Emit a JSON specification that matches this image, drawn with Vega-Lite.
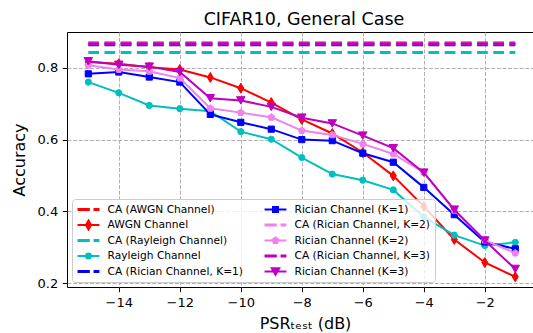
{
  "$schema": "https://vega.github.io/schema/vega-lite/v6.json",
  "width": 466,
  "height": 255,
  "autosize": {"type": "none"},
  "padding": {"left": 67, "top": 32, "right": 0, "bottom": 46},
  "background": "white",
  "title": {
    "text": "CIFAR10, General Case",
    "font": "DejaVu Sans",
    "fontSize": 17.5,
    "fontWeight": "normal",
    "color": "#000000",
    "anchor": "middle",
    "baseline": "alphabetic",
    "offset": -10,
    "dx": 4
  },
  "config": {
    "view": {"stroke": "#000000", "strokeWidth": 1},
    "axis": {
      "domain": false,
      "tickColor": "#000000",
      "tickWidth": 1,
      "tickSize": 4.7,
      "labelColor": "#000000",
      "labelFont": "DejaVu Sans",
      "labelFontSize": 13,
      "labelPadding": 4.6,
      "titleColor": "#000000",
      "titleFont": "DejaVu Sans",
      "titleFontSize": 16,
      "titleFontWeight": "normal",
      "grid": true,
      "gridColor": "#b0b0b0",
      "gridDash": [3.95, 1.7],
      "gridWidth": 1
    },
    "legend": {
      "orient": "bottom-left",
      "offset": 5,
      "columns": 2,
      "columnPadding": 20,
      "rowPadding": 3.5,
      "clipHeight": 12,
      "padding": 4.5,
      "symbolSize": 480,
      "symbolStrokeWidth": 2,
      "symbolOpacity": 1,
      "symbolOffset": 0,
      "labelOffset": 7,
      "labelFont": "DejaVu Sans",
      "labelFontSize": 10.67,
      "labelColor": "#000000",
      "labelLimit": 300,
      "fillColor": "rgba(255,255,255,0.8)",
      "strokeColor": "#cccccc",
      "cornerRadius": 3
    }
  },
  "datasets": {
    "ca": [
      {"x": -15, "acc": 0.869, "s": "CA (AWGN Channel)"},
      {"x": -1, "acc": 0.869, "s": "CA (AWGN Channel)"},
      {"x": -15, "acc": 0.842, "s": "CA (Rayleigh Channel)"},
      {"x": -1, "acc": 0.842, "s": "CA (Rayleigh Channel)"},
      {"x": -15, "acc": 0.864, "s": "CA (Rician Channel, K=1)"},
      {"x": -1, "acc": 0.864, "s": "CA (Rician Channel, K=1)"},
      {"x": -15, "acc": 0.867, "s": "CA (Rician Channel, K=2)"},
      {"x": -1, "acc": 0.867, "s": "CA (Rician Channel, K=2)"},
      {"x": -15, "acc": 0.8665, "s": "CA (Rician Channel, K=3)"},
      {"x": -1, "acc": 0.8665, "s": "CA (Rician Channel, K=3)"}
    ],
    "curves": [
      {"x": -15, "acc": 0.816, "s": "AWGN Channel"},
      {"x": -14, "acc": 0.811, "s": "AWGN Channel"},
      {"x": -13, "acc": 0.801, "s": "AWGN Channel"},
      {"x": -12, "acc": 0.795, "s": "AWGN Channel"},
      {"x": -11, "acc": 0.773, "s": "AWGN Channel"},
      {"x": -10, "acc": 0.743, "s": "AWGN Channel"},
      {"x": -9, "acc": 0.703, "s": "AWGN Channel"},
      {"x": -8, "acc": 0.656, "s": "AWGN Channel"},
      {"x": -7, "acc": 0.617, "s": "AWGN Channel"},
      {"x": -6, "acc": 0.564, "s": "AWGN Channel"},
      {"x": -5, "acc": 0.499, "s": "AWGN Channel"},
      {"x": -4, "acc": 0.414, "s": "AWGN Channel"},
      {"x": -3, "acc": 0.322, "s": "AWGN Channel"},
      {"x": -2, "acc": 0.258, "s": "AWGN Channel"},
      {"x": -1, "acc": 0.218, "s": "AWGN Channel"},

      {"x": -15, "acc": 0.760, "s": "Rayleigh Channel"},
      {"x": -14, "acc": 0.730, "s": "Rayleigh Channel"},
      {"x": -13, "acc": 0.695, "s": "Rayleigh Channel"},
      {"x": -12, "acc": 0.686, "s": "Rayleigh Channel"},
      {"x": -11, "acc": 0.679, "s": "Rayleigh Channel"},
      {"x": -10, "acc": 0.622, "s": "Rayleigh Channel"},
      {"x": -9, "acc": 0.601, "s": "Rayleigh Channel"},
      {"x": -8, "acc": 0.550, "s": "Rayleigh Channel"},
      {"x": -7, "acc": 0.504, "s": "Rayleigh Channel"},
      {"x": -6, "acc": 0.487, "s": "Rayleigh Channel"},
      {"x": -5, "acc": 0.460, "s": "Rayleigh Channel"},
      {"x": -4, "acc": 0.385, "s": "Rayleigh Channel"},
      {"x": -3, "acc": 0.334, "s": "Rayleigh Channel"},
      {"x": -2, "acc": 0.305, "s": "Rayleigh Channel"},
      {"x": -1, "acc": 0.314, "s": "Rayleigh Channel"},

      {"x": -15, "acc": 0.783, "s": "Rician Channel (K=1)"},
      {"x": -14, "acc": 0.788, "s": "Rician Channel (K=1)"},
      {"x": -13, "acc": 0.774, "s": "Rician Channel (K=1)"},
      {"x": -12, "acc": 0.760, "s": "Rician Channel (K=1)"},
      {"x": -11, "acc": 0.670, "s": "Rician Channel (K=1)"},
      {"x": -10, "acc": 0.648, "s": "Rician Channel (K=1)"},
      {"x": -9, "acc": 0.629, "s": "Rician Channel (K=1)"},
      {"x": -8, "acc": 0.600, "s": "Rician Channel (K=1)"},
      {"x": -7, "acc": 0.597, "s": "Rician Channel (K=1)"},
      {"x": -6, "acc": 0.562, "s": "Rician Channel (K=1)"},
      {"x": -5, "acc": 0.537, "s": "Rician Channel (K=1)"},
      {"x": -4, "acc": 0.467, "s": "Rician Channel (K=1)"},
      {"x": -3, "acc": 0.391, "s": "Rician Channel (K=1)"},
      {"x": -2, "acc": 0.315, "s": "Rician Channel (K=1)"},
      {"x": -1, "acc": 0.296, "s": "Rician Channel (K=1)"},

      {"x": -15, "acc": 0.807, "s": "Rician Channel (K=2)"},
      {"x": -14, "acc": 0.795, "s": "Rician Channel (K=2)"},
      {"x": -13, "acc": 0.790, "s": "Rician Channel (K=2)"},
      {"x": -12, "acc": 0.771, "s": "Rician Channel (K=2)"},
      {"x": -11, "acc": 0.687, "s": "Rician Channel (K=2)"},
      {"x": -10, "acc": 0.675, "s": "Rician Channel (K=2)"},
      {"x": -9, "acc": 0.662, "s": "Rician Channel (K=2)"},
      {"x": -8, "acc": 0.625, "s": "Rician Channel (K=2)"},
      {"x": -7, "acc": 0.613, "s": "Rician Channel (K=2)"},
      {"x": -6, "acc": 0.588, "s": "Rician Channel (K=2)"},
      {"x": -5, "acc": 0.560, "s": "Rician Channel (K=2)"},
      {"x": -4, "acc": 0.509, "s": "Rician Channel (K=2)"},
      {"x": -3, "acc": 0.403, "s": "Rician Channel (K=2)"},
      {"x": -2, "acc": 0.320, "s": "Rician Channel (K=2)"},
      {"x": -1, "acc": 0.284, "s": "Rician Channel (K=2)"},

      {"x": -15, "acc": 0.818, "s": "Rician Channel (K=3)"},
      {"x": -14, "acc": 0.808, "s": "Rician Channel (K=3)"},
      {"x": -13, "acc": 0.803, "s": "Rician Channel (K=3)"},
      {"x": -12, "acc": 0.788, "s": "Rician Channel (K=3)"},
      {"x": -11, "acc": 0.715, "s": "Rician Channel (K=3)"},
      {"x": -10, "acc": 0.709, "s": "Rician Channel (K=3)"},
      {"x": -9, "acc": 0.691, "s": "Rician Channel (K=3)"},
      {"x": -8, "acc": 0.661, "s": "Rician Channel (K=3)"},
      {"x": -7, "acc": 0.645, "s": "Rician Channel (K=3)"},
      {"x": -6, "acc": 0.611, "s": "Rician Channel (K=3)"},
      {"x": -5, "acc": 0.576, "s": "Rician Channel (K=3)"},
      {"x": -4, "acc": 0.508, "s": "Rician Channel (K=3)"},
      {"x": -3, "acc": 0.405, "s": "Rician Channel (K=3)"},
      {"x": -2, "acc": 0.319, "s": "Rician Channel (K=3)"},
      {"x": -1, "acc": 0.240, "s": "Rician Channel (K=3)"}
    ]
  },
  "data": {"name": "curves"},
  "encoding": {
    "x": {
      "field": "x",
      "type": "quantitative",
      "scale": {"domain": [-15.698, -0.419], "nice": false, "zero": false},
      "axis": {
        "values": [-14, -12, -10, -8, -6, -4, -2],
        "format": "d",
        "title": "PSRₜₑₛₜ (dB)",
        "titlePadding": 6.5,
        "titleX": 238,
        "titleAlign": "center"
      }
    },
    "y": {
      "field": "acc",
      "type": "quantitative",
      "scale": {"domain": [0.1897, 0.8994], "nice": false, "zero": false},
      "axis": {
        "values": [0.2, 0.4, 0.6, 0.8],
        "format": ".1f",
        "title": "Accuracy",
        "titlePadding": 10
      }
    }
  },
  "layer": [
    {
      "data": {"name": "ca"},
      "mark": {"type": "line", "strokeWidth": 3, "strokeDash": [10.7, 5.5]},
      "encoding": {
        "stroke": {
          "field": "s",
          "type": "nominal",
          "scale": {
            "domain": ["CA (AWGN Channel)", "CA (Rayleigh Channel)", "CA (Rician Channel, K=1)", "CA (Rician Channel, K=2)", "CA (Rician Channel, K=3)"],
            "range": ["#ff0000", "#00bfbf", "#0000ff", "#ee82ee", "#bf00bf"]
          },
          "legend": null
        }
      }
    },
    {
      "transform": [{"filter": "datum.s === 'AWGN Channel'"}],
      "layer": [
        {"mark": {"type": "line", "color": "#ff0000", "strokeWidth": 2}},
        {"mark": {"type": "point", "filled": true, "opacity": 1, "color": "#ff0000", "stroke": "#ff0000", "strokeWidth": 1, "shape": "M0,-1L0.6,0L0,1L-0.6,0Z", "size": 100}}
      ]
    },
    {
      "transform": [{"filter": "datum.s === 'Rayleigh Channel'"}],
      "layer": [
        {"mark": {"type": "line", "color": "#00bfbf", "strokeWidth": 2}},
        {"mark": {"type": "point", "filled": true, "opacity": 1, "color": "#00bfbf", "stroke": "#00bfbf", "strokeWidth": 1, "shape": "circle", "size": 38}}
      ]
    },
    {
      "transform": [{"filter": "datum.s === 'Rician Channel (K=1)'"}],
      "layer": [
        {"mark": {"type": "line", "color": "#0000ff", "strokeWidth": 2}},
        {"mark": {"type": "point", "filled": true, "opacity": 1, "color": "#0000ff", "stroke": "#0000ff", "strokeWidth": 1, "shape": "square", "size": 38}}
      ]
    },
    {
      "transform": [{"filter": "datum.s === 'Rician Channel (K=2)'"}],
      "layer": [
        {"mark": {"type": "line", "color": "#ee82ee", "strokeWidth": 2}},
        {"mark": {"type": "point", "filled": true, "opacity": 1, "color": "#ee82ee", "stroke": "#ee82ee", "strokeWidth": 1, "shape": "M0,-1L0.951,-0.309L0.588,0.809L-0.588,0.809L-0.951,-0.309Z", "size": 52}}
      ]
    },
    {
      "transform": [{"filter": "datum.s === 'Rician Channel (K=3)'"}],
      "layer": [
        {"mark": {"type": "line", "color": "#bf00bf", "strokeWidth": 2}},
        {"mark": {"type": "point", "filled": true, "opacity": 1, "color": "#bf00bf", "stroke": "#bf00bf", "strokeWidth": 1, "shape": "M-1,-0.88L1,-0.88L0,0.88Z", "size": 72}}
      ]
    },
    {
      "mark": {"type": "point", "filled": true, "opacity": 0},
      "encoding": {
        "color": {
          "field": "s",
          "type": "nominal",
          "scale": {
            "domain": ["CA (AWGN Channel)", "AWGN Channel", "CA (Rayleigh Channel)", "Rayleigh Channel", "CA (Rician Channel, K=1)", "Rician Channel (K=1)", "CA (Rician Channel, K=2)", "Rician Channel (K=2)", "CA (Rician Channel, K=3)", "Rician Channel (K=3)"],
            "range": ["#ff0000", "#ff0000", "#00bfbf", "#00bfbf", "#0000ff", "#0000ff", "#ee82ee", "#ee82ee", "#bf00bf", "#bf00bf"]
          },
          "legend": {
            "title": null,
            "encode": {
              "symbols": {
                "update": {
                  "stroke": {"scale": "color", "field": "value"},
                  "fill": {"scale": "color", "field": "value"},
                  "strokeWidth": {"value": 2},
                  "opacity": {"value": 1}
                }
              }
            }
          }
        },
        "shape": {
          "field": "s",
          "type": "nominal",
          "scale": {
            "domain": ["CA (AWGN Channel)", "AWGN Channel", "CA (Rayleigh Channel)", "Rayleigh Channel", "CA (Rician Channel, K=1)", "Rician Channel (K=1)", "CA (Rician Channel, K=2)", "Rician Channel (K=2)", "CA (Rician Channel, K=3)", "Rician Channel (K=3)"],
            "range": [
              "M-0.909,-0.046H0.029V0.046H-0.909ZM0.551,-0.046H0.909V0.046H0.551Z",
              "M-1,0H1M0,-0.41L0.23,0L0,0.41L-0.23,0Z",
              "M-0.909,-0.046H0.029V0.046H-0.909ZM0.551,-0.046H0.909V0.046H0.551Z",
              "M-1,0H1M-0.23,0A0.23,0.23,0,1,0,0.23,0A0.23,0.23,0,1,0,-0.23,0Z",
              "M-0.909,-0.046H0.029V0.046H-0.909ZM0.551,-0.046H0.909V0.046H0.551Z",
              "M-1,0H1M-0.23,-0.23H0.23V0.23H-0.23Z",
              "M-0.909,-0.046H0.029V0.046H-0.909ZM0.551,-0.046H0.909V0.046H0.551Z",
              "M-1,0H1M0,-0.283L0.269,-0.087L0.166,0.229L-0.166,0.229L-0.269,-0.087Z",
              "M-0.909,-0.046H0.029V0.046H-0.909ZM0.551,-0.046H0.909V0.046H0.551Z",
              "M-1,0H1M-0.342,-0.296H0.342L0,0.296Z"
            ]
          },
          "legend": {
            "title": null,
            "encode": {
              "symbols": {
                "update": {
                  "stroke": {"scale": "color", "field": "value"},
                  "fill": {"scale": "color", "field": "value"},
                  "strokeWidth": {"value": 2},
                  "opacity": {"value": 1}
                }
              }
            }
          }
        }
      }
    }
  ]
}
